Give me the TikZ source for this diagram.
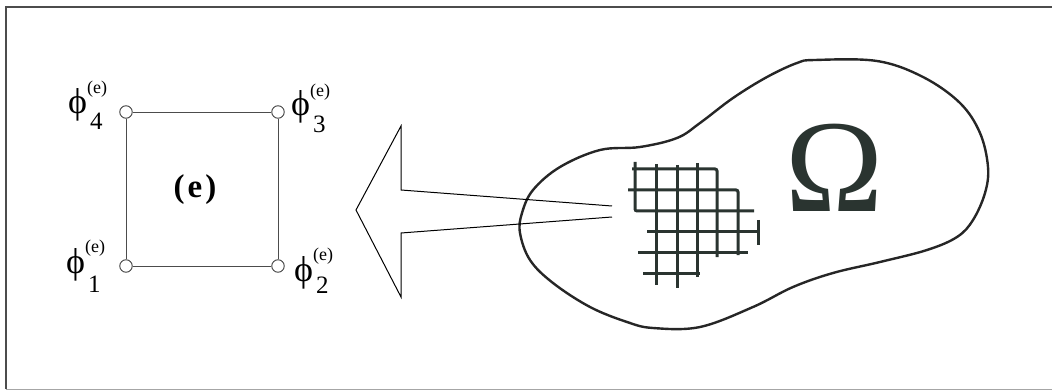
\documentclass[tikz,border=0pt]{standalone}
\usepackage{fontspec}
\setmainfont{Liberation Serif}
\usetikzlibrary{positioning}

\definecolor{ink}{RGB}{42,52,48}
\newcommand{\philab}[3]{ϕ\rlap{\raisebox{#2pt}{\fontsize{18}{18}\selectfont(e)}}\kern3pt\raisebox{-#3pt}{\fontsize{25}{25}\selectfont #1}}

\begin{document}
\begin{tikzpicture}[
    x=1pt, y=-1pt,
    vtx/.style  ={circle, draw=black!75, fill=white, line width=0.9pt,
                  minimum size=12.5pt, inner sep=0pt},
    side/.style ={draw=black!70, line width=0.9pt},
    lab/.style  ={font=\fontsize{36}{36}\selectfont, inner sep=0pt},
    mesh/.style ={draw=ink, line width=3pt, rounded corners=2pt},
    blob/.style ={draw=black!85, line width=2.4pt},
  ]
  \useasboundingbox (0,0) rectangle (1052,390);
  % --- frame ---
  \draw[black!70, line width=1.5pt] (6,389) -- (6,7) -- (1052,7);
  \draw[black!35, line width=1pt] (6,389) -- (1052,389);

  % --- element (e) ---
  \node[vtx] (n1) at (126,266) {};
  \node[vtx] (n2) at (278,266) {};
  \node[vtx] (n3) at (278,112) {};
  \node[vtx] (n4) at (126,112) {};
  \draw[side] (n1) -- (n2) -- (n3) -- (n4) -- (n1);
  \node[font=\fontsize{33}{33}\selectfont\bfseries] (elem) at (195,190) {(\kern3pt e\kern3pt)};
  \node[lab, anchor=base west] (l4) at (68,114)  {\philab{4}{20}{16}};
  \node[lab, anchor=base west] (l3) at (291,116) {\philab{3}{19}{17}};
  \node[lab, anchor=base west] (l1) at (66,273)  {\philab{1}{21}{19}};
  \node[lab, anchor=base west] (l2) at (294,281) {\philab{2}{21}{12}};

  % --- domain ---
  \draw[blob] plot[smooth cycle, tension=0.6] coordinates {
    (815,60) (877,61) (923,77) (960,103) (980,133) (988,167) (985,193)
    (973,220) (957,237) (927,250) (880,262) (833,273) (793,287) (753,307)
    (700,327) (653,328) (627,322) (590,307) (553,283) (530,260) (520,233)
    (522,213) (533,190) (560,167) (600,150) (640,147) (677,138) (700,123)
    (733,98) (767,77) (797,63)};
  \node[text=ink, font=\fontsize{132}{132}\selectfont, inner sep=0pt] (omega) at (835,168) {Ω};

  % --- mesh ---
  \draw[mesh] (635,162) -- (635,211) -- (754,211);
  \draw[mesh] (632,169) -- (717,169) -- (717,257);
  \draw[mesh] (628,190) -- (738,190) -- (738,255);
  \draw[mesh] (656,164) -- (656,285);
  \draw[mesh] (677,165) -- (677,288);
  \draw[mesh] (697,163) -- (697,277);
  \draw[mesh] (758,220) -- (758,245);
  \draw[mesh] (647,232) -- (758,232);
  \draw[mesh] (638,252) -- (748,252);
  \draw[mesh] (643,273) -- (700,273);

  % --- zoom arrow ---
  \draw[black, line width=1pt, line join=miter]
    (612,206) -- (401,190) -- (401,126) -- (356,210)
    -- (401,297) -- (401,233) -- (612,217);
\end{tikzpicture}
\end{document}
